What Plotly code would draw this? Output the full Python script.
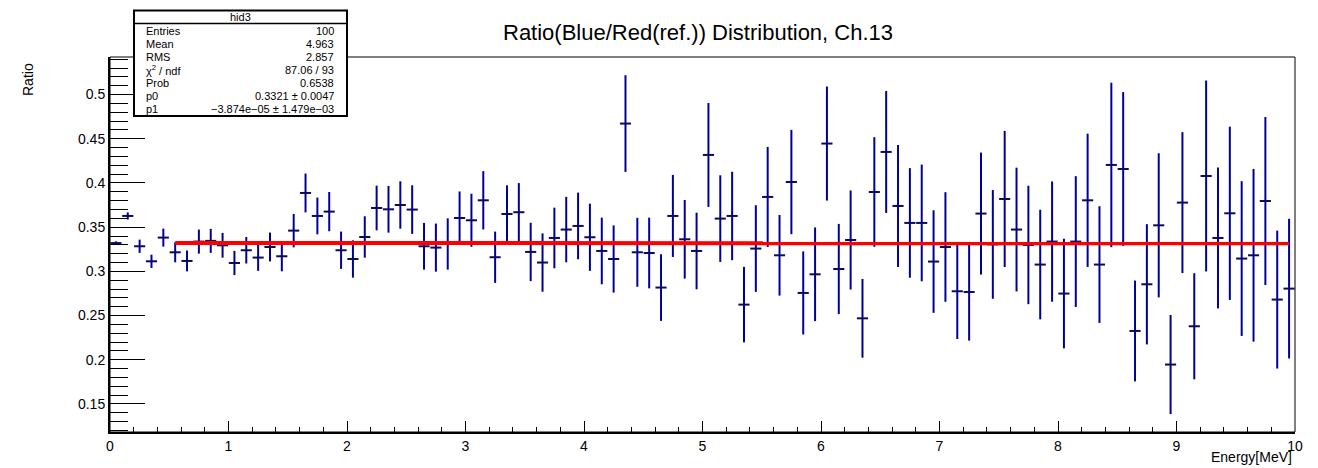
import plotly.graph_objects as go

# Histogram "hid3": 100 bins on [0, 10] MeV
n_bins = 100
x_min, x_max = 0.0, 10.0

ratio = [
    0.332, 0.3627, 0.3284, 0.3114, 0.3382, 0.3216, 0.3118, 0.3337, 0.3345, 0.3295,
    0.3095, 0.3239, 0.3156, 0.3276, 0.3171, 0.3461, 0.3887, 0.3627, 0.3676, 0.3239,
    0.314, 0.3389, 0.3717, 0.3702, 0.3751, 0.3699, 0.3284, 0.3269, 0.331, 0.3604,
    0.3578, 0.3804, 0.316, 0.3649, 0.3669, 0.322, 0.31, 0.3378, 0.3473, 0.3514,
    0.3386, 0.3231, 0.314, 0.4672, 0.3216, 0.3208, 0.2817, 0.3627, 0.3363, 0.3231,
    0.4317, 0.3597, 0.3627, 0.2624, 0.3258, 0.3842, 0.3182, 0.4011, 0.2756, 0.2967,
    0.4446, 0.3027, 0.3355, 0.2469, 0.3898, 0.4351, 0.374, 0.3548, 0.3548, 0.3111,
    0.3276, 0.2775, 0.2767, 0.3654, 0.3305, 0.3819, 0.3473, 0.3299, 0.3077, 0.3337,
    0.2749, 0.3337, 0.3804, 0.3077, 0.4204, 0.4158, 0.2326, 0.2854, 0.3521, 0.1946,
    0.3778, 0.2379, 0.4079, 0.3378, 0.3657, 0.3145, 0.3182, 0.3796, 0.2681, 0.2805,
]

ratio_err = [
    0.002, 0.004, 0.0075, 0.0075, 0.0102, 0.0113, 0.0118, 0.0136, 0.0136, 0.014,
    0.0137, 0.015, 0.015, 0.0163, 0.017, 0.0189, 0.022, 0.0208, 0.0222, 0.0211,
    0.0211, 0.0234, 0.0253, 0.0264, 0.0268, 0.0275, 0.0264, 0.0272, 0.029, 0.030,
    0.030, 0.033, 0.029, 0.0324, 0.033, 0.033, 0.033, 0.0343, 0.037, 0.0377,
    0.038, 0.0377, 0.038, 0.0547, 0.039, 0.040, 0.0377, 0.0464, 0.0445, 0.0433,
    0.0588, 0.049, 0.050, 0.0427, 0.049, 0.0566, 0.0456, 0.059, 0.047, 0.053,
    0.0645, 0.051, 0.056, 0.0445, 0.062, 0.069, 0.069, 0.062, 0.066, 0.058,
    0.062, 0.054, 0.055, 0.069, 0.0615, 0.077, 0.070, 0.067, 0.062, 0.068,
    0.062, 0.074, 0.0754, 0.066, 0.093, 0.087, 0.057, 0.068, 0.0815, 0.056,
    0.0797, 0.060, 0.108, 0.0797, 0.098, 0.0875, 0.0977, 0.095, 0.078, 0.079,
]

# pol1 fit result and its range
p0, p1 = 0.3321, -3.874e-05
fit_range = [0.55, 9.95]

stats_labels = ["Entries", "Mean", "RMS", "χ<sup>2</sup> / ndf", "Prob", "p0", "p1"]
stats_values = ["100", "4.963", "2.857", "87.06 / 93", "0.6538",
                "0.3321 ± 0.0047", "−3.874e−05 ± 1.479e−03"]

bin_w = (x_max - x_min) / n_bins
centers = [x_min + bin_w * (i + 0.5) for i in range(n_bins)]

# pixel -> paper helpers (plot frame is fixed by the margins)
W, H = 1318, 468
L, R, T, B = 110, 23, 57, 36


def px(x):
    return (x - L) / (W - L - R)


def py(y):
    return 1 - (y - T) / (H - T - B)


FONT = "Liberation Sans, Arial, Helvetica, sans-serif"
NAVY = "#000099"

fig = go.Figure()

fig.add_trace(go.Scatter(
    x=centers, y=ratio, mode="markers",
    marker=dict(size=1, color="rgba(0,0,0,0)"),
    error_x=dict(type="constant", value=bin_w * 0.47, thickness=2, width=0, color="#0a0a60"),
    error_y=dict(type="data", array=ratio_err, thickness=2, width=0, color=NAVY),
    showlegend=False, hoverinfo="x+y",
))

fig.add_trace(go.Scatter(
    x=fit_range, y=[p0 + p1 * v for v in fit_range], mode="lines",
    line=dict(color="#ff0000", width=4), showlegend=False,
))

axis_common = dict(
    showgrid=False, zeroline=False, showline=True, linecolor="black", linewidth=2,
    ticks="inside", tickcolor="black", tickwidth=1,
    tickfont=dict(family=FONT, size=14, color="black"),
)

fig.update_xaxes(range=[x_min, x_max], dtick=1, tick0=0, ticklen=11,
                 minor=dict(ticks="inside", dtick=0.2, ticklen=5.5, tickcolor="black", tickwidth=1),
                 **axis_common)
fig.update_yaxes(range=[0.1183, 0.5425], dtick=0.05, tick0=0, ticklen=35,
                 minor=dict(ticks="inside", dtick=0.01, ticklen=18, tickcolor="black", tickwidth=1),
                 **axis_common)

shapes = [
    # frame
    dict(type="rect", xref="paper", yref="paper", x0=0, x1=1, y0=0, y1=1,
         line=dict(color="black", width=1), layer="above"),
    # stats box
    dict(type="rect", xref="paper", yref="paper", x0=px(134), x1=px(347), y0=py(116), y1=py(10.5),
         line=dict(color="black", width=2), fillcolor="white", layer="above"),
    dict(type="line", xref="paper", yref="paper", x0=px(134), x1=px(347), y0=py(23.5), y1=py(23.5),
         line=dict(color="black", width=1.5), layer="above"),
]

annotations = [
    dict(text="Ratio(Blue/Red(ref.)) Distribution, Ch.13", xref="paper", yref="paper",
         x=px(698), y=py(32), xanchor="center", yanchor="middle", showarrow=False,
         font=dict(family=FONT, size=22, color="black")),
    dict(text="Ratio", xref="paper", yref="paper", x=px(28), y=py(80), textangle=-90,
         xanchor="center", yanchor="middle", showarrow=False,
         font=dict(family=FONT, size=14, color="black")),
    dict(text="Energy[MeV]", xref="paper", yref="paper", x=px(1294), y=py(457),
         xanchor="right", yanchor="middle", showarrow=False,
         font=dict(family=FONT, size=14, color="black")),
    dict(text="hid3", xref="paper", yref="paper", x=px(240.5), y=py(17),
         xanchor="center", yanchor="middle", showarrow=False,
         font=dict(family=FONT, size=11, color="black")),
]

for i, (lab, val) in enumerate(zip(stats_labels, stats_values)):
    yy = py(31.5 + 12.9 * i)
    annotations.append(dict(text=lab, xref="paper", yref="paper", x=px(144), y=yy,
                            xanchor="left", yanchor="middle", showarrow=False,
                            font=dict(family=FONT, size=11, color="black")))
    annotations.append(dict(text=val, xref="paper", yref="paper", x=px(336), y=yy,
                            xanchor="right", yanchor="middle", showarrow=False,
                            font=dict(family=FONT, size=11, color="black")))

fig.update_layout(
    width=W, height=H,
    margin=dict(l=L, r=R, t=T, b=B),
    paper_bgcolor="white", plot_bgcolor="white",
    shapes=shapes, annotations=annotations,
    font=dict(family=FONT, color="black"),
)

# the page's default body margin would shift the figure by 8px
fig.write_html("out.html", config={"displayModeBar": False},
               post_script="document.body.style.margin='0';")
